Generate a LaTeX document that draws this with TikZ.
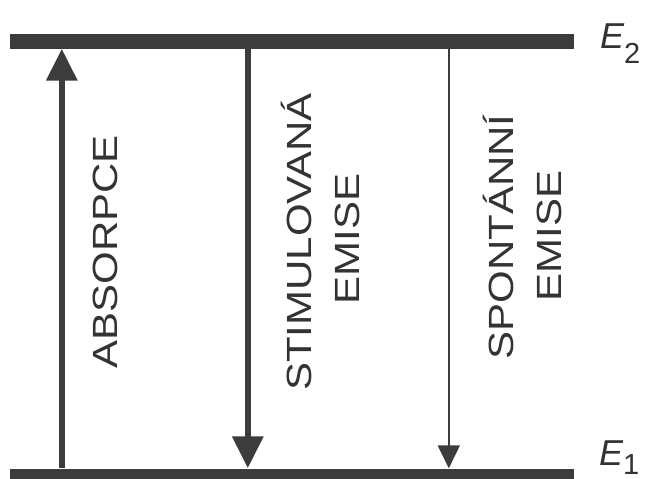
\documentclass[tikz,border=0pt]{standalone}
\usepackage{fontspec}
\setmainfont{Liberation Sans}
\newfontfamily\labelfont[FakeStretch=1.2]{Liberation Sans}
\usepackage{tikz}
\usetikzlibrary{arrows.meta, positioning}
\definecolor{levelgray}{HTML}{3C3C3C}
\definecolor{textgray}{HTML}{333333}

\begin{document}
\begin{tikzpicture}[
    x=1pt, y=-1pt,
    level/.style={fill=levelgray, inner sep=0pt, minimum width=564pt, minimum height=15pt},
    vlabel/.style={rotate=90, anchor=base, inner sep=0pt, text=textgray, font=\labelfont\fontsize{35}{35}\selectfont},
    elabel/.style={anchor=base west, inner sep=0pt, text=textgray, font=\fontsize{36}{36}\selectfont\itshape},
    thickarrow/.style={draw=levelgray, line width=6.5pt, -{Triangle[length=32pt, width=30pt]}},
    thinarrow/.style={draw=levelgray, line width=2pt, -{Triangle[length=23pt, width=22pt]}}
]
    \useasboundingbox (0,0) rectangle (654,479);

    % energy levels
    \node[level] (e2) at (292,41) {};
    \node[level] (e1) at (292,476) {};
    \node[elabel] (e2lab) at (600,48) {E\raisebox{-15pt}{\fontsize{29}{29}\selectfont\upshape 2}};
    \node[elabel] (e1lab) at (599,465) {E\raisebox{-9pt}{\fontsize{29}{29}\selectfont\upshape 1}};

    % transitions
    \draw[thickarrow] ([xshift=52pt]e1.north west) -- ([xshift=52pt]e2.south west);
    \draw[thickarrow] ([xshift=238pt]e2.south west) -- ([xshift=238pt]e1.north west);
    \draw[thinarrow] ([xshift=439pt]e2.south west) -- ([xshift=439pt]e1.north west);

    \node[vlabel] (absorb) at (117,252) {ABSORPCE};
    \node[vlabel] (stim1) at (311,242) {STIMULOVANÁ};
    \node[vlabel] (stim2) at (359,239) {EMISE};
    \node[vlabel] (spont1) at (513,237) {SPONTÁNNÍ};
    \node[vlabel] (spont2) at (561,236) {EMISE};
\end{tikzpicture}
\end{document}
